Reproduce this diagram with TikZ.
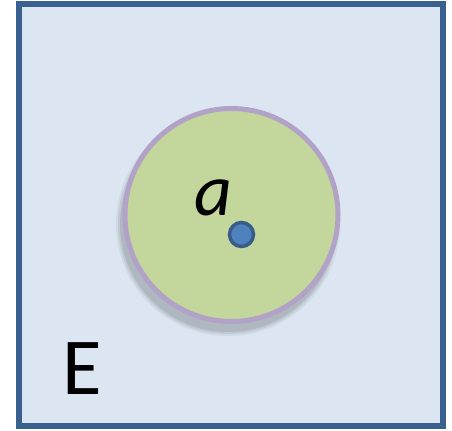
\documentclass[tikz,border=0pt]{standalone}
\usepackage{fontspec}
\setmainfont{Carlito}
\usepackage{tikz}
\usetikzlibrary{shadows, positioning, calc}
\definecolor{fondo}{HTML}{DCE6F2}
\definecolor{marco}{HTML}{3A6090}
\definecolor{disco}{HTML}{C3D69B}
\definecolor{borde}{HTML}{B3A2C7}
\definecolor{punto}{HTML}{4F81BD}
\definecolor{puntoborde}{HTML}{385D8A}

\begin{document}
\begin{tikzpicture}[x=0.02cm, y=-0.02cm,
    conjunto/.style={draw=marco, fill=fondo, line width=6*0.02cm,
      minimum width=424*0.02cm, minimum height=422*0.02cm, inner sep=0pt,
      drop shadow={shadow xshift=2.5*0.02cm, shadow yshift=-2.5*0.02cm,
        opacity=0.35, fill=black!60}},
    bola/.style={circle, draw=borde, fill=disco, line width=5*0.02cm,
      minimum size=213*0.02cm, inner sep=0pt},
    centro/.style={circle, draw=puntoborde, fill=punto, line width=3.5*0.02cm,
      minimum size=24*0.02cm, inner sep=0pt}]
    \useasboundingbox (0,0) rectangle (452,430);

    % el conjunto E
    \node[conjunto] (E) at (231.3,215.3) {};
    \node[font=\fontsize{46}{46}\selectfont] (etiqE) at (82,369) {E};

    % sombra difusa de la bola
    \foreach \r/\o in {112/0.05, 110/0.07, 108/0.09}
      \fill[black, opacity=\o] (228,224) circle (\r);

    % la bola centrada en a
    \node[bola] (B) at (231.5,215) {};
    \node[centro] (a) at (241.5,234.5) {};
    \node[font=\fontsize{42}{42}\selectfont\itshape, inner sep=0pt] (etiqa) at (213.5,197.5) {a};
  \end{tikzpicture}
\end{document}
